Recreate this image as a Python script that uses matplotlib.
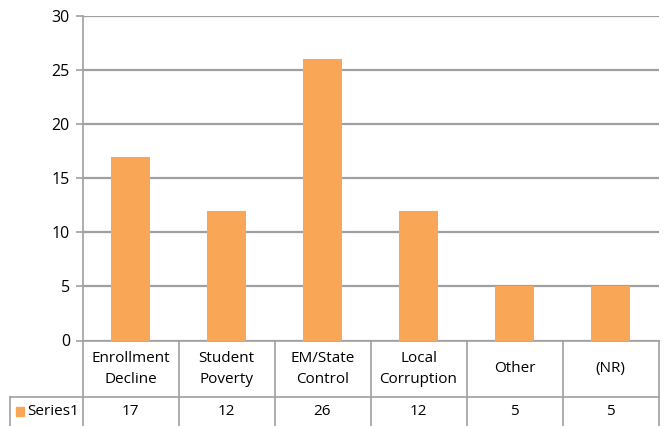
import matplotlib
matplotlib.use("Agg")
import matplotlib.pyplot as plt
from matplotlib.transforms import blended_transform_factory

# ───────────────────────────── data ───────────────────────────── #
categories = ["Enrollment\nDecline", "Student\nPoverty", "EM/State\nControl",
              "Local\nCorruption", "Other", "(NR)"]
series_name = "Series1"
values = [17, 12, 26, 12, 5, 5]
yticks = [0, 5, 10, 15, 20, 25, 30]

BAR = "#F9A656"
GRID = "#A0A0A0"

plt.rcParams["font.family"] = ["Open Sans", "DejaVu Sans"]

W, H = 667, 426
fig = plt.figure(figsize=(W / 100, H / 100), dpi=100)

# axes in pixel coordinates: left 82.5, right 658.5, top 16, bottom 340.5
left, right, top, bottom = 82.5, 658.5, 16, 340.5
ax = fig.add_axes([left / W, 1 - bottom / H, (right - left) / W, (bottom - top) / H])

x = list(range(len(values)))
ax.bar(x, values, width=0.41, color=BAR, zorder=3)

ax.set_xlim(-0.5, len(values) - 0.5)
ax.set_ylim(0, 30)
ax.set_yticks(yticks)
ax.set_yticklabels([str(t) for t in yticks], fontsize=11.5)
ax.yaxis.grid(True, color=GRID, linewidth=1.6, zorder=0)
ax.set_xticks([])
ax.tick_params(axis="y", length=5, width=1.2, color=GRID, pad=4)
for s in ["top", "right", "bottom"]:
    ax.spines[s].set_visible(False)
ax.spines["left"].set_color(GRID)
ax.spines["left"].set_linewidth(1.2)

# ──────────────────────── data table below ─────────────────────── #
tr = blended_transform_factory(ax.transData, ax.transAxes)
ph = bottom - top
row1 = -(397 - bottom) / ph          # bottom of header row
row2 = -(440 - bottom) / ph          # beyond figure edge
lbl_left = -0.5 - (left - 10) / 96.0  # left edge of "Series1" cell

line_kw = dict(color=GRID, linewidth=1.2, clip_on=False, transform=tr)
for i in range(len(values) + 1):
    xv = -0.5 + i
    ax.plot([xv, xv], [0, row2], **line_kw)
ax.plot([lbl_left, len(values) - 0.5], [row1, row1], **line_kw)
ax.plot([lbl_left, lbl_left], [row1, row2], **line_kw)
ax.plot([-0.5, len(values) - 0.5], [0, 0], **line_kw)

mid1 = row1 / 2
mid2 = -(411.5 - bottom) / ph
for xi, cat, v in zip(x, categories, values):
    ax.text(xi, mid1, cat, transform=tr, ha="center", va="center",
            fontsize=11, linespacing=1.55)
    ax.text(xi, mid2, str(v), transform=tr, ha="center", va="center",
            fontsize=11)

# legend key + series name
key_x = lbl_left + 6 / 96.0
ax.add_patch(plt.Rectangle((key_x, mid2 - 4.5 / ph), 8 / 96.0, 9 / ph,
                           transform=tr, color=BAR, clip_on=False))
ax.text(key_x + 11 / 96.0, mid2, series_name, transform=tr, ha="left",
        va="center", fontsize=11)

fig.savefig("out.png", dpi=100)
